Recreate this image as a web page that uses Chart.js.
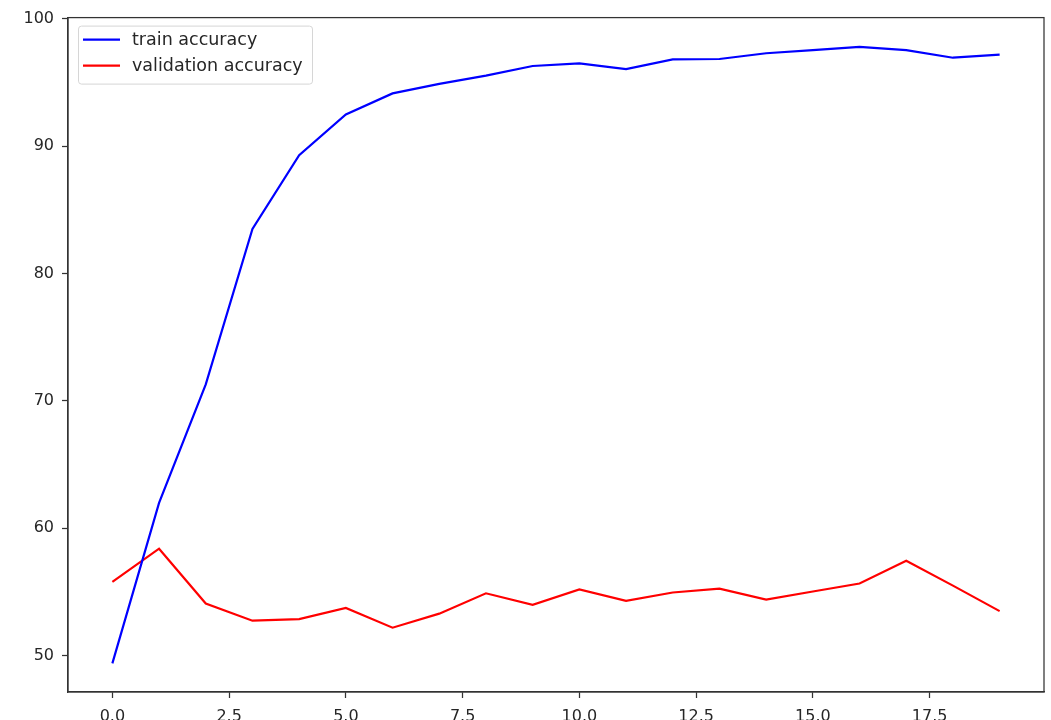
<!DOCTYPE html>
<html>
<head>
<meta charset="utf-8">
<script src="https://cdn.jsdelivr.net/npm/chart.js@4/dist/chart.umd.min.js"></script>
<style>
  html, body { margin: 0; padding: 0; background: #fff; overflow: hidden; }
  #wrap { position: absolute; left: 0; top: 0; width: 1051px; height: 740px; }
</style>
</head>
<body>
<div id="wrap"><canvas id="c" width="1051" height="740"></canvas></div>
<script>
const epochs = [0,1,2,3,4,5,6,7,8,9,10,11,12,13,14,15,16,17,18,19];
const trainAcc = [49.4,62.0,71.3,83.5,89.3,92.5,94.15,94.9,95.55,96.3,96.5,96.06,96.82,96.85,97.3,97.55,97.8,97.55,96.95,97.2];
const valAcc = [55.8,58.4,54.1,52.75,52.87,53.75,52.2,53.3,54.9,54.0,55.2,54.3,54.96,55.27,54.4,55.04,55.67,57.45,55.5,53.5];
const seriesLabels = ['train accuracy', 'validation accuracy'];
const xTicks = [0,2.5,5,7.5,10,12.5,15,17.5];
const yTicks = [50,60,70,80,90,100];

const FONT = "'DejaVu Sans', sans-serif";

const frame = {
  id: 'frame',
  afterDatasetsDraw(chart) {
    const {ctx, chartArea: a} = chart;
    ctx.save();
    ctx.strokeStyle = '#333';
    ctx.lineWidth = 1.25;
    ctx.strokeRect(a.left, a.top, a.right - a.left, a.bottom - a.top);
    ctx.restore();
  }
};

const boxLegend = {
  id: 'boxLegend',
  afterDraw(chart) {
    const {ctx, chartArea: a} = chart;
    const x0 = a.left + 10, y0 = a.top + 8, w = 234, h = 58;
    ctx.save();
    ctx.beginPath();
    ctx.roundRect(x0 + 0.5, y0 + 0.5, w, h, 3);
    ctx.fillStyle = 'rgba(255,255,255,0.8)';
    ctx.fill();
    ctx.strokeStyle = '#d6d6d6';
    ctx.lineWidth = 1;
    ctx.stroke();
    ctx.font = '17.5px ' + FONT;
    ctx.textBaseline = 'middle';
    chart.data.datasets.forEach((ds, i) => {
      const cy = y0 + 14 + i * 26;
      ctx.strokeStyle = ds.borderColor;
      ctx.lineWidth = 2.2;
      ctx.beginPath();
      ctx.moveTo(x0 + 5, cy);
      ctx.lineTo(x0 + 42, cy);
      ctx.stroke();
      ctx.fillStyle = '#262626';
      ctx.fillText(ds.label, x0 + 54, cy + 1);
    });
    ctx.restore();
  }
};

new Chart(document.getElementById('c'), {
  type: 'line',
  data: {
    datasets: [
      { label: seriesLabels[0], data: epochs.map((e, i) => ({x: e, y: trainAcc[i]})),
        borderColor: '#0000ff', borderWidth: 2.2, pointRadius: 0, tension: 0, fill: false },
      { label: seriesLabels[1], data: epochs.map((e, i) => ({x: e, y: valAcc[i]})),
        borderColor: '#ff0000', borderWidth: 2.2, pointRadius: 0, tension: 0, fill: false }
    ]
  },
  options: {
    responsive: false,
    animation: false,
    devicePixelRatio: 1,
    layout: { padding: { left: 0, top: 16, right: 7, bottom: 0 } },
    plugins: { legend: { display: false }, tooltip: { enabled: false } },
    scales: {
      x: {
        type: 'linear', min: -0.95, max: 19.95,
        afterBuildTicks: s => { s.ticks = xTicks.map(v => ({value: v})); },
        afterFit: s => { s.height = 48; },
        grid: { drawOnChartArea: false, drawTicks: true, tickLength: 6, tickColor: '#333', tickWidth: 1.25 },
        border: { display: true, color: '#333', width: 1.25 },
        ticks: { color: '#262626', font: { family: FONT, size: 16 }, padding: 9, maxRotation: 0,
                 callback: v => Number(v).toFixed(1) }
      },
      y: {
        type: 'linear', min: 47.15, max: 100.1,
        afterBuildTicks: s => { s.ticks = yTicks.map(v => ({value: v})); },
        afterFit: s => { s.width = 68; },
        grid: { drawOnChartArea: false, drawTicks: true, tickLength: 6, tickColor: '#333', tickWidth: 1.25 },
        border: { display: true, color: '#333', width: 1.25 },
        ticks: { color: '#262626', font: { family: FONT, size: 16 }, padding: 8,
                 callback: v => String(v) }
      }
    }
  },
  plugins: [frame, boxLegend]
});
</script>
</body>
</html>
